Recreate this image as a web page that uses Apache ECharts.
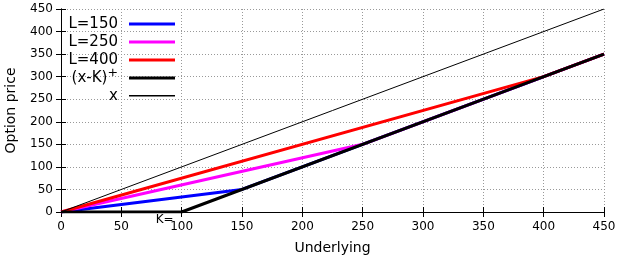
<!DOCTYPE html>
<html>
<head>
<meta charset="utf-8">
<script src="https://cdn.jsdelivr.net/npm/echarts@6/dist/echarts.min.js"></script>
<style>
  html, body { margin: 0; padding: 0; background: #fff; }
  #chart { width: 617px; height: 258px; }
</style>
</head>
<body>
<div id="chart"></div>
<script>
// 数据
const strikeK = 100;
const lineL150 = [[0, 0], [150, 50], [450, 350]];
const lineL250 = [[0, 0], [250, 150], [450, 350]];
const lineL400 = [[0, 0], [400, 300], [450, 350]];
const payoff = [[0, 0], [100, 0], [450, 350]];
const lineX = [[0, 0], [450, 450]];
const seriesNames = ['L=150', 'L=250', 'L=400', '(x-K)', 'x'];
const seriesSup = ['', '', '', '\u207A', ''];
const seriesColors = ['#0000ff', '#ff00ff', '#ff0000', '#000000', '#000000'];
const seriesWidths = [3, 3, 3, 3, 1];
const seriesData = [lineL150, lineL250, lineL400, payoff, lineX];

const chart = echarts.init(document.getElementById('chart'));
const font = 'DejaVu Sans';

// 图例线条：M0 0 / M46 14 撑开包围盒，中间一条横线
const thickIcon = 'path://M0 0 M0 5.5H46V8.5H0Z M46 14';
const thinIcon = 'path://M0 0 M0 6H46V7.5H0Z M46 14';

const axisCommon = {
  type: 'value',
  min: 0,
  max: 450,
  interval: 50,
  axisLine: { lineStyle: { color: '#000', width: 1 } },
  axisTick: { inside: true, length: 5, lineStyle: { color: '#000' } },
};

const series = seriesNames.map((name, i) => ({
  name,
  type: 'line',
  data: seriesData[i],
  symbol: 'none',
  silent: true,
  lineStyle: { color: seriesColors[i], width: seriesWidths[i] },
  itemStyle: { color: seriesColors[i] },
  z: 2 + i,
}));

// K= 标注
series[3].markPoint = {
  symbol: 'circle',
  symbolSize: 0,
  data: [{ coord: [strikeK, 0] }],
  label: {
    show: true,
    formatter: 'K=',
    position: 'inside',
    offset: [-17, 8],
    fontFamily: font,
    fontSize: 12,
    color: '#000',
  },
};

chart.setOption({
  animation: false,
  textStyle: { fontFamily: font },
  grid: { left: 61, right: 13, top: 9, bottom: 46, outerBoundsMode: 'none', containLabel: false },
  legend: {
    orient: 'vertical',
    left: 61,
    top: 9,
    align: 'right',
    itemWidth: 46,
    itemHeight: 14,
    itemGap: -2,
    selectedMode: false,
    data: seriesNames.map((name, i) => ({
      name,
      icon: seriesWidths[i] > 1 ? thickIcon : thinIcon,
      itemStyle: { color: seriesColors[i] },
    })),
    formatter: (name) => {
      const i = seriesNames.indexOf(name);
      return '{b|' + name + '}{s|' + (seriesSup[i] || '\u200B') + '}';
    },
    textStyle: {
      fontFamily: font,
      fontSize: 15,
      lineHeight: 15,
      color: '#000',
      width: 52,
      align: 'right',
      padding: [0, 6, 0, 0],
      rich: {
        b: { fontFamily: font, fontSize: 15, lineHeight: 15, color: '#000' },
        s: { fontFamily: font, fontSize: 20, lineHeight: 15, color: '#000' },
      },
    },
  },
  xAxis: [
    Object.assign({}, axisCommon, {
      position: 'bottom',
      name: 'Underlying',
      nameLocation: 'middle',
      nameGap: 29,
      nameTextStyle: { fontFamily: font, fontSize: 14, color: '#000' },
      axisLabel: { fontFamily: font, fontSize: 12, color: '#000', margin: 9 },
      splitLine: { show: true, lineStyle: { color: '#999', type: [1, 2], width: 1 } },
    }),
    Object.assign({}, axisCommon, {
      position: 'top',
      axisLabel: { show: false },
      splitLine: { show: false },
    }),
  ],
  yAxis: [
    Object.assign({}, axisCommon, {
      position: 'left',
      name: 'Option price',
      nameLocation: 'middle',
      nameGap: 43,
      nameTextStyle: { fontFamily: font, fontSize: 14, color: '#000' },
      axisLabel: { fontFamily: font, fontSize: 12, color: '#000', margin: 8 },
      splitLine: { show: true, lineStyle: { color: '#999', type: [1, 2], width: 1 } },
    }),
    Object.assign({}, axisCommon, {
      position: 'right',
      axisLabel: { show: false },
      splitLine: { show: false },
    }),
  ],
  series,
});
</script>
</body>
</html>
